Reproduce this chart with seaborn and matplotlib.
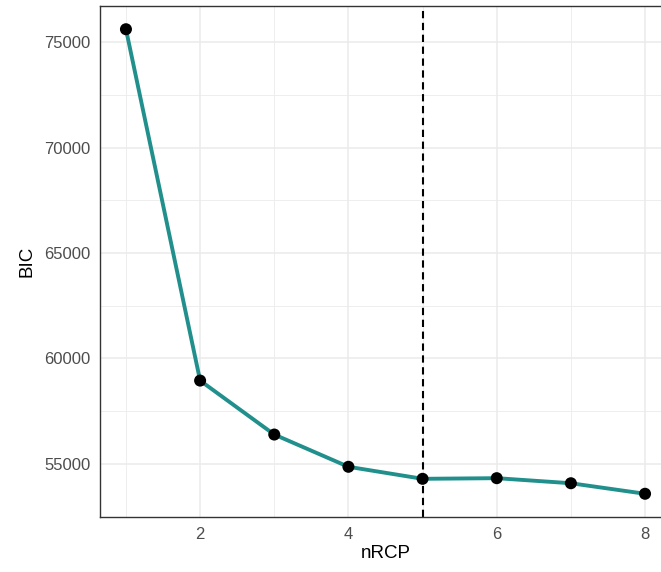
import matplotlib
matplotlib.use("Agg")
import matplotlib.pyplot as plt
import seaborn as sns
import pandas as pd
from matplotlib.ticker import MultipleLocator

nrcp = [1, 2, 3, 4, 5, 6, 7, 8]
bic = [75620, 58950, 56390, 54860, 54290, 54320, 54080, 53580]
chosen = 5

df = pd.DataFrame({"nRCP": nrcp, "BIC": bic})

sns.set_style("white")
plt.rcParams['font.family'] = ['Liberation Sans', 'DejaVu Sans']

fig = plt.figure(figsize=(6.61, 5.72), dpi=100)
ax = fig.add_axes([100/661, 55/572, 571/661, 511/572])

sns.lineplot(data=df, x="nRCP", y="BIC", color="#21908C", linewidth=2.8, ax=ax, zorder=3)
sns.scatterplot(data=df, x="nRCP", y="BIC", color="black", s=75, edgecolor="none", ax=ax, zorder=4)
ax.axvline(chosen, color="black", linestyle=(0, (3.5, 2.2)), linewidth=1.5, zorder=2)

xr = max(nrcp) - min(nrcp)
ax.set_xlim(min(nrcp) - 0.05 * xr, max(nrcp) + 0.05 * xr)
yr = max(bic) - min(bic)
ax.set_ylim(min(bic) - 0.05 * yr, max(bic) + 0.05 * yr)

ax.xaxis.set_major_locator(MultipleLocator(2))
ax.xaxis.set_minor_locator(MultipleLocator(1))
ax.yaxis.set_major_locator(MultipleLocator(5000))
ax.yaxis.set_minor_locator(MultipleLocator(2500))

ax.grid(which="major", color="#EBEBEB", linewidth=1.1, zorder=0)
ax.grid(which="minor", color="#EBEBEB", linewidth=0.6, zorder=0)
ax.set_axisbelow(True)

for s in ax.spines.values():
    s.set_color("#333333")
    s.set_linewidth(1.0)

ax.tick_params(which="major", axis="both", direction="out", length=3.5, width=1.0,
               color="#333333", labelcolor="#4D4D4D", labelsize=12, pad=3.5)
ax.tick_params(which="minor", length=0)

ax.set_xlabel("nRCP", fontsize=13.5, color="black", labelpad=2)
ax.set_ylabel("BIC", fontsize=13.5, color="black", labelpad=6)

fig.savefig("out.png", dpi=100)
